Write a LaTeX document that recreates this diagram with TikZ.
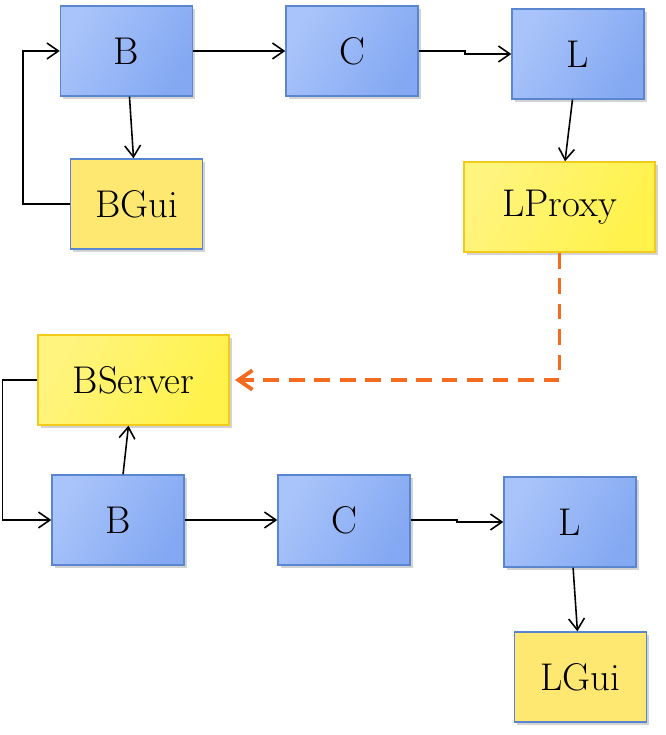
\documentclass[tikz,border=0pt]{standalone}
\usetikzlibrary{arrows.meta,calc,shadows}
\definecolor{bluemd}{HTML}{A9C4FA}
\definecolor{bluelt}{HTML}{C6DAFF}
\definecolor{bluedk}{HTML}{84A8F2}
\definecolor{blueln}{HTML}{5A86CF}
\definecolor{yelmd}{HTML}{FFF47E}
\definecolor{yellt}{HTML}{FFFAC4}
\definecolor{yeldk}{HTML}{FFF24A}
\definecolor{yelln}{HTML}{F2CB1A}
\definecolor{yelflat}{HTML}{FFE872}
\definecolor{orng}{HTML}{F26B1F}
\begin{document}
\begin{tikzpicture}[>={Straight Barb[length=6.5pt,width=9pt]},line width=0.9pt,
  box/.style={draw=blueln,line width=0.8pt,minimum width=2.64cm,minimum height=1.8cm,font=\fontsize{22}{26}\selectfont,drop shadow={shadow xshift=1.5pt,shadow yshift=-1.5pt,opacity=.35}},
  comp/.style={box,shading=axis,left color=bluemd,middle color=bluelt,right color=bluedk,shading angle=60},
  gui/.style={box,fill=yelflat},
  proxy/.style={box,draw=yelln,minimum width=3.82cm,shading=axis,left color=yelmd,middle color=yellt,right color=yeldk,shading angle=60}]
\useasboundingbox (0,0) rectangle (13.3,14.7);
\node[comp] (Bt) at (2.53,13.68) {B};   \node[comp] (Ct) at (7.04,13.68) {C};  \node[comp] (Lt) at (11.56,13.62) {L};
\node[gui] (BGui) at (2.73,10.62) {BGui};  \node[proxy] (LProxy) at (11.19,10.56) {LProxy};
\node[proxy] (BServer) at (2.67,7.1) {BServer};
\node[comp] (Bb) at (2.36,4.3) {B};     \node[comp] (Cb) at (6.88,4.3) {C};    \node[comp] (Lb) at (11.4,4.26) {L};
\node[gui] (LGui) at (11.61,1.16) {LGui};
\foreach \A/\B in {Bt/Ct,Ct/Lt,Bb/Cb,Cb/Lb}{\draw[->] (\A.east) -| ($(\A.east)!.5!(\B.west)$) |- (\B.west);}
\foreach \A/\B in {Bt/BGui,Lt/LProxy,Bb/BServer,Lb/LGui}{\draw[->] (\A) -- (\B);}
\draw[->] (BGui.west) -- ++(-0.94,0) |- (Bt.west);
\draw[->] (BServer.west) -- ++(-0.7,0) |- (Bb.west);
\draw[->,>={Straight Barb[length=8pt,width=11pt]},orng,line width=2.2pt,dash pattern=on 9pt off 5.5pt] (LProxy.south) |- ([xshift=3pt]BServer.east);
\end{tikzpicture}
\end{document}
